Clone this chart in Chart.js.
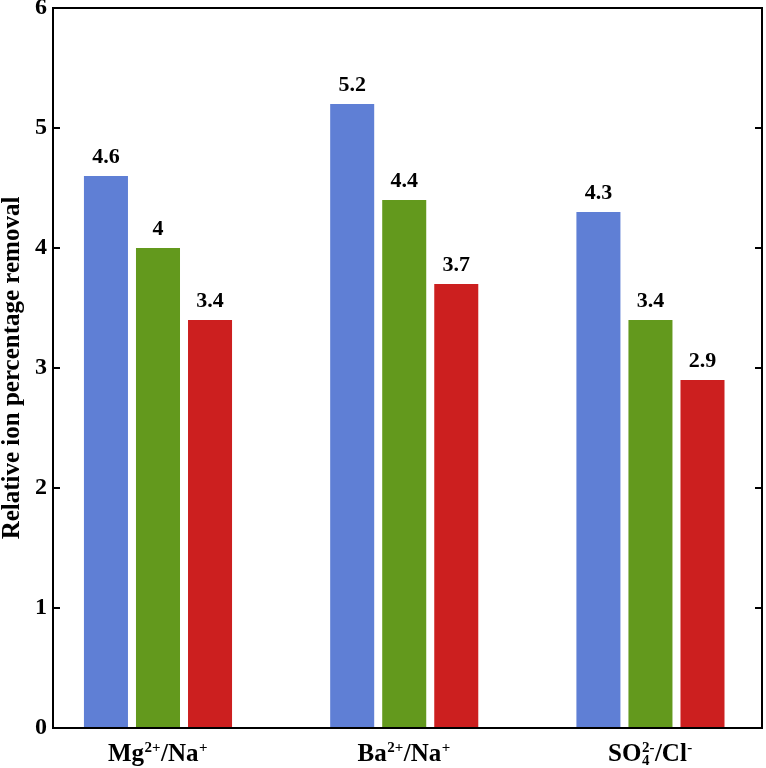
<!DOCTYPE html>
<html><head><meta charset="utf-8">
<script src="https://cdn.jsdelivr.net/npm/chart.js@4"></script>
<style>html,body{margin:0;padding:0;background:#fff}#wrap{width:766px;height:768px;position:relative}</style>
</head><body><div id="wrap"><canvas id="c"></canvas></div>
<script>
// ---- data ----
const categories = [1, 2, 3];
// rich tick labels: segments of normal / sup / sub / subsup text
const categoryLabels = [
  [{t:'Mg'}, {sup:'2+'}, {t:'/Na'}, {sup:'+'}],
  [{t:'Ba'}, {sup:'2+'}, {t:'/Na'}, {sup:'+'}],
  [{t:'SO'}, {sub:'4', sup:'2-'}, {t:'/Cl'}, {sup:'-'}]
];
const seriesNames = ['Series 1', 'Series 2', 'Series 3'];
const series1 = [4.6, 5.2, 4.3];
const series2 = [4.0, 4.4, 3.4];
const series3 = [3.4, 3.7, 2.9];
const yTicks = [0, 1, 2, 3, 4, 5, 6];
const yTitle = 'Relative ion percentage removal';

const colors = ['#5F7FD5', '#63991D', '#CC1F1F'];
const FAMILY = "'Liberation Serif', 'Times New Roman', serif";

const allSeries = [series1, series2, series3];
const datasets = allSeries.map((s, i) => ({
  label: seriesNames[i],
  data: categories.map((c, j) => ({x: c, y: s[j]})),
  backgroundColor: colors[i],
  borderWidth: 0,
  categoryPercentage: 0.634,
  barPercentage: 0.846
}));

const framePlugin = {
  id: 'frame',
  afterDatasetsDraw(chart) {
    const {ctx, chartArea: a, scales: {y}} = chart;
    ctx.save();
    ctx.strokeStyle = '#000';
    ctx.lineWidth = 2;
    ctx.strokeRect(a.left, a.top, a.right - a.left, a.bottom - a.top);
    yTicks.forEach(v => {
      const py = Math.round(y.getPixelForValue(v));
      ctx.beginPath();
      ctx.moveTo(a.left, py); ctx.lineTo(a.left + 7, py);
      ctx.moveTo(a.right, py); ctx.lineTo(a.right - 7, py);
      ctx.stroke();
    });
    ctx.restore();
  }
};

const valueLabelPlugin = {
  id: 'valueLabels',
  afterDatasetsDraw(chart) {
    const {ctx} = chart;
    ctx.save();
    ctx.font = 'bold 22px ' + FAMILY;
    ctx.fillStyle = '#000';
    ctx.textAlign = 'center';
    ctx.textBaseline = 'alphabetic';
    chart.data.datasets.forEach((ds, i) => {
      const meta = chart.getDatasetMeta(i);
      meta.data.forEach((el, j) => {
        ctx.fillText(String(allSeries[i][j]), el.x, el.y - 13);
      });
    });
    ctx.restore();
  }
};

const xLabelPlugin = {
  id: 'xLabels',
  afterDraw(chart) {
    const {ctx, scales: {x}} = chart;
    const main = 'bold 25px ' + FAMILY;
    const small = 'bold 15px ' + FAMILY;
    const baseY = 761;
    ctx.save();
    ctx.fillStyle = '#000';
    ctx.textBaseline = 'alphabetic';
    ctx.textAlign = 'left';
    categories.forEach((c, i) => {
      const segs = categoryLabels[i];
      const widths = segs.map(s => {
        if (s.t !== undefined) { ctx.font = main; return ctx.measureText(s.t).width; }
        ctx.font = small;
        return Math.max(s.sup ? ctx.measureText(s.sup).width : 0, s.sub ? ctx.measureText(s.sub).width : 0) + 1;
      });
      const total = widths.reduce((p, q) => p + q, 0);
      let px = x.getPixelForValue(c) - total / 2;
      segs.forEach((s, k) => {
        if (s.t !== undefined) {
          ctx.font = main; ctx.fillText(s.t, px, baseY);
        } else {
          ctx.font = small;
          if (s.sup) ctx.fillText(s.sup, px + 0.5, baseY - 9);
          if (s.sub) ctx.fillText(s.sub, px + 0.5, baseY + 4);
        }
        px += widths[k];
      });
    });
    ctx.restore();
  }
};

new Chart(document.getElementById('c'), {
  type: 'bar',
  data: { datasets },
  options: {
    responsive: true,
    maintainAspectRatio: false,
    animation: false,
    layout: { padding: { top: 8, right: 4, left: 0, bottom: 0 } },
    plugins: { legend: { display: false }, tooltip: { enabled: false } },
    scales: {
      x: {
        type: 'linear', min: 0.5736, max: 3.453, offset: false,
        afterBuildTicks(s) { s.ticks = categories.map(v => ({ value: v })); },
        grid: { display: false, drawTicks: false }, border: { display: false },
        ticks: { display: false },
        afterFit(s) { s.height = 40; s.paddingLeft = 0; s.paddingRight = 0; }
      },
      y: {
        min: 0, max: 6,
        afterBuildTicks(s) { s.ticks = yTicks.map(v => ({ value: v })); },
        ticks: { font: { family: FAMILY, size: 24, weight: 'bold' }, color: '#000', padding: 6 },
        grid: { display: false, drawTicks: false }, border: { display: false },
        title: { display: true, text: yTitle, color: '#000', padding: 0,
          font: { family: FAMILY, size: 25, weight: 'bold', lineHeight: 1.0 } },
        afterFit(s) { s.width = 53; s.paddingTop = 0; s.paddingBottom = 0; }
      }
    }
  },
  plugins: [framePlugin, valueLabelPlugin, xLabelPlugin]
});
</script>
</body></html>
